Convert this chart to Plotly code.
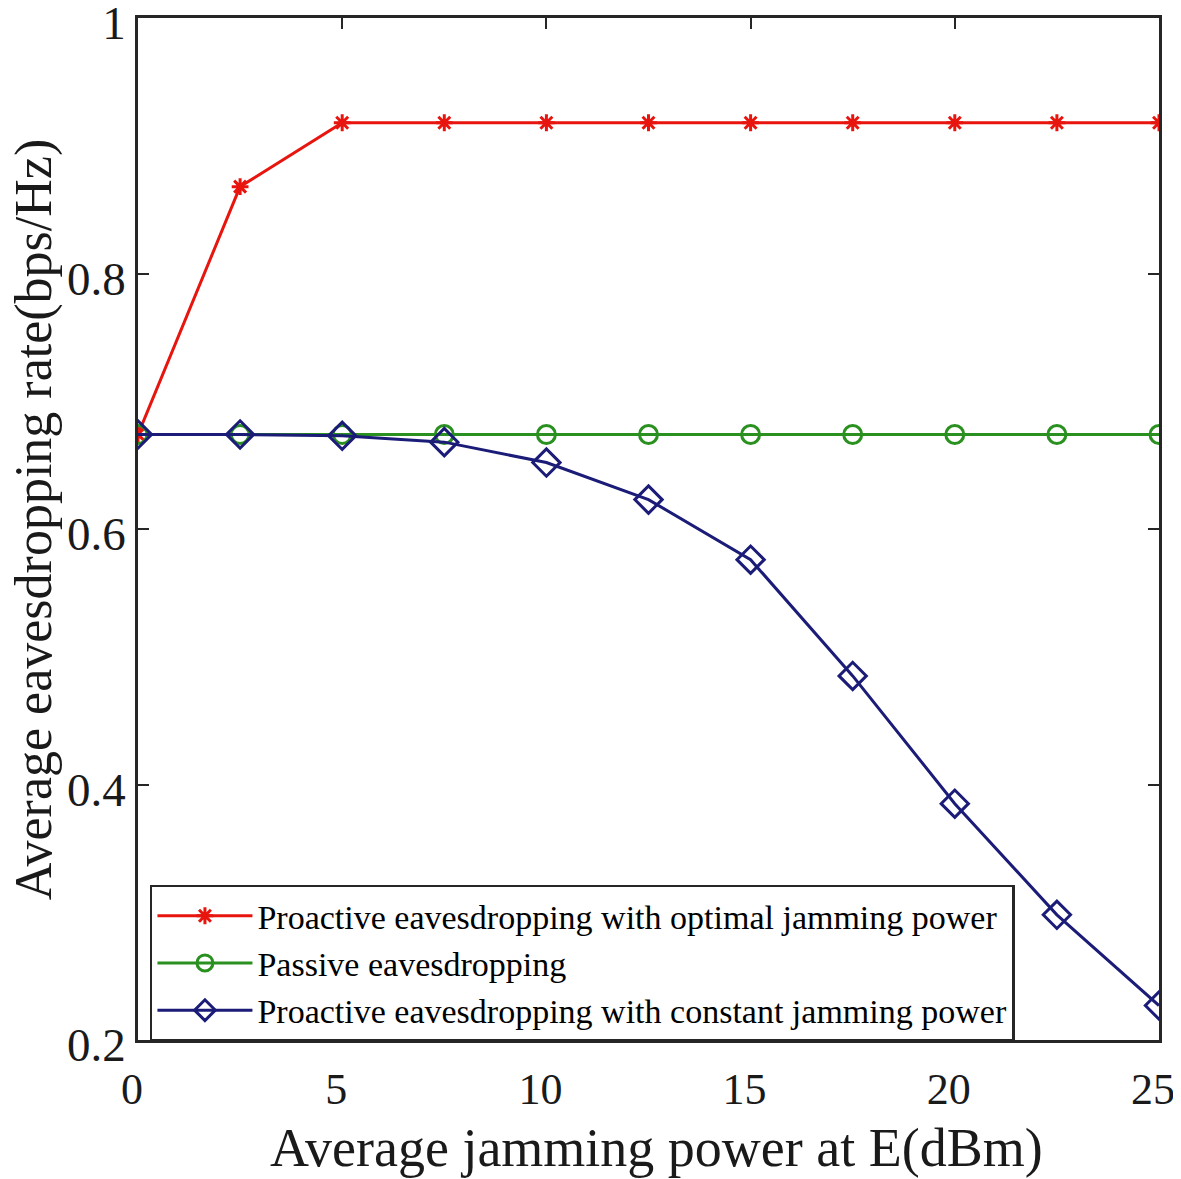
import plotly.graph_objects as go

x_vals = [0, 2.5, 5, 7.5, 10, 12.5, 15, 17.5, 20, 22.5, 25]
optimal = [0.674, 0.868, 0.918, 0.918, 0.918, 0.918, 0.918, 0.918, 0.918, 0.918, 0.918]
passive = [0.674, 0.674, 0.674, 0.674, 0.674, 0.674, 0.674, 0.674, 0.674, 0.674, 0.674]
constant = [0.674, 0.674, 0.673, 0.668, 0.652, 0.623, 0.576, 0.485, 0.385, 0.298, 0.227]

names = ["Proactive eavesdropping with optimal jamming power",
         "Passive eavesdropping",
         "Proactive eavesdropping with constant jamming power"]
x_ticks = [0, 5, 10, 15, 20, 25]
y_ticks = [0.2, 0.4, 0.6, 0.8, 1.0]
y_tick_text = ["0.2", "0.4", "0.6", "0.8", "1"]
x_title = "Average jamming power at E(dBm)"
y_title = "Average eavesdropping rate(bps/Hz)"

RED = "#E8150F"
GREEN = "#2A9020"
NAVY = "#1B1B78"
FONT = "Liberation Serif"
AX = "#262626"
TXT = "#1a1a1a"

fig = go.Figure()
fig.add_trace(go.Scatter(x=x_vals, y=optimal, name=names[0], mode="lines+markers",
                         line=dict(color=RED, width=3),
                         marker=dict(symbol="asterisk-open", size=14, line=dict(color=RED, width=3))))
fig.add_trace(go.Scatter(x=x_vals, y=passive, name=names[1], mode="lines+markers",
                         line=dict(color=GREEN, width=3),
                         marker=dict(symbol="circle-open", size=18, line=dict(color=GREEN, width=3))))
fig.add_trace(go.Scatter(x=x_vals, y=constant, name=names[2], mode="lines+markers",
                         line=dict(color=NAVY, width=3),
                         marker=dict(symbol="diamond-open", size=21, line=dict(color=NAVY, width=3))))

fig.update_layout(
    width=1181, height=1179,
    margin=dict(l=130, r=30, t=10, b=147, autoexpand=False),
    plot_bgcolor="white", paper_bgcolor="white",
    font=dict(family=FONT, color="#111111"),
    showlegend=True,
    legend=dict(x=0.0117, y=0.152, xanchor="left", yanchor="top",
                bgcolor="white", bordercolor=AX, borderwidth=2.5,
                font=dict(family=FONT, size=34, color="black"),
                itemwidth=95, tracegroupgap=0),
    annotations=[
        dict(text=x_title, xref="paper", yref="paper", x=0.508, y=-0.106,
             xanchor="center", yanchor="middle", showarrow=False,
             font=dict(family=FONT, size=54, color=TXT)),
        dict(text=y_title, xref="paper", yref="paper", x=-0.1025, y=0.509,
             xanchor="center", yanchor="middle", showarrow=False, textangle=-90,
             font=dict(family=FONT, size=52, color=TXT)),
    ],
)
fig.update_xaxes(range=[0, 25], tickvals=x_ticks, ticks="inside", ticklen=11, tickwidth=2,
                 tickcolor=AX, showline=True, linecolor=AX, linewidth=2.5, mirror="ticks",
                 showgrid=False, zeroline=False, automargin=False, ticklabeloverflow="allow",
                 ticklabelshift=-6, ticklabelstandoff=8,
                 tickfont=dict(family=FONT, size=44, color=TXT))
fig.update_yaxes(range=[0.2, 1.0], tickvals=y_ticks, ticktext=y_tick_text, ticks="inside",
                 ticklen=11, tickwidth=2, tickcolor=AX, showline=True, linecolor=AX,
                 linewidth=2.5, mirror="ticks", showgrid=False, zeroline=False,
                 automargin=False, ticklabeloverflow="allow", ticklabelshift=5,
                 tickfont=dict(family=FONT, size=47, color=TXT))

fig.write_html("out.html")
